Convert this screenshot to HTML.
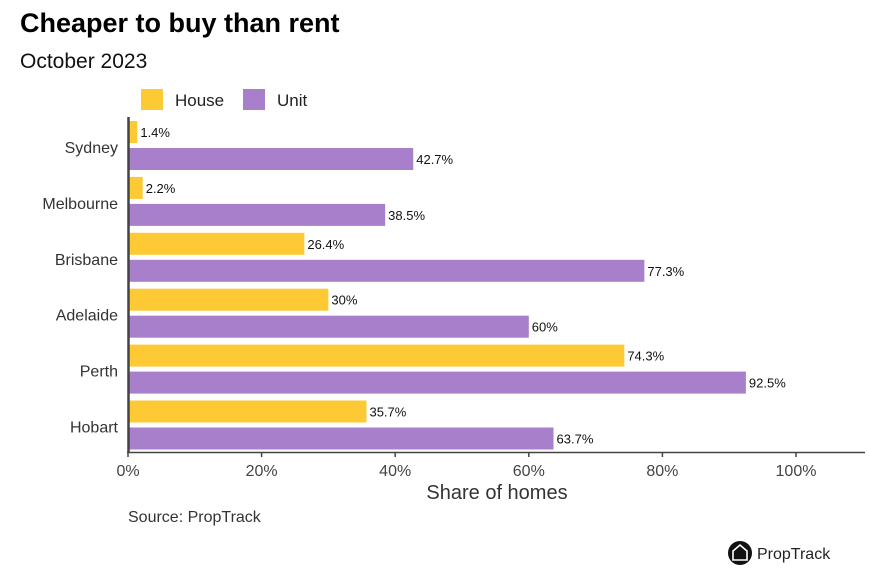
<!DOCTYPE html>
<html><head><meta charset="utf-8"><style>
body{margin:0;background:#fff;width:869px;height:573px;overflow:hidden;font-family:"Liberation Sans",sans-serif;}
</style></head><body>
<svg width="869" height="573" xmlns="http://www.w3.org/2000/svg">
<text x="20" y="32" font-size="27" font-weight="bold" fill="#000">Cheaper to buy than rent</text>
<text x="20" y="68" font-size="21" fill="#111">October 2023</text>
<g>
<rect x="141" y="89" width="22" height="21" fill="#fdc935"/>
<text x="175" y="106" font-size="17" fill="#222">House</text>
<rect x="243" y="89" width="22" height="21" fill="#a77fcb"/>
<text x="277" y="106" font-size="17" fill="#222">Unit</text>
</g>
<g id="plot"></g>
<text x="497" y="499" font-size="20" fill="#333" text-anchor="middle">Share of homes</text>
<text x="128" y="522" font-size="16" fill="#333">Source: PropTrack</text>
<g>
<circle cx="740" cy="553" r="12" fill="#111"/>
<path d="M733 556 L733 551 L740 545 L747 551 L747 560 L733 560 Z" fill="none" stroke="#fff" stroke-width="1.6"/>
<text x="757" y="559" font-size="16" fill="#222">PropTrack</text>
</g>
</svg>
<script>
const categories=["Sydney","Melbourne","Brisbane","Adelaide","Perth","Hobart"];
const houseValues=[1.4,2.2,26.4,30,74.3,35.7];
const unitValues=[42.7,38.5,77.3,60,92.5,63.7];
const houseLabels=["1.4%","2.2%","26.4%","30%","74.3%","35.7%"];
const unitLabels=["42.7%","38.5%","77.3%","60%","92.5%","63.7%"];
const xTicks=[0,20,40,60,80,100];
const xTickLabels=["0%","20%","40%","60%","80%","100%"];
const NS="http://www.w3.org/2000/svg";
const g=document.getElementById('plot');
const x=v=>128+v*6.68;
const bandTop=i=>121+i*55.9;
function el(t,a){const e=document.createElementNS(NS,t);for(const k in a)e.setAttribute(k,a[k]);g.appendChild(e);return e;}
categories.forEach((c,i)=>{
  const t=bandTop(i);
  const l=el('text',{x:118,y:t+32,'font-size':16,fill:'#333','text-anchor':'end'});l.textContent=c;
  
  
  const hb=el('rect',{x:x(0),y:t,width:x(houseValues[i])-x(0),height:22,fill:'#fdc935'});
  
  
  const hl=el('text',{x:x(houseValues[i])+3,y:t+16,'font-size':13,fill:'#111'});hl.textContent=houseLabels[i];
  
  
  const ub=el('rect',{x:x(0),y:t+27,width:x(unitValues[i])-x(0),height:22,fill:'#a77fcb'});
  
  
  const ul=el('text',{x:x(unitValues[i])+3,y:t+43,'font-size':13,fill:'#111'});ul.textContent=unitLabels[i];
  
  
});
const ya=el('line',{x1:128.5,y1:117,x2:128.5,y2:453,stroke:'#444','stroke-width':2.5});


const xa=el('line',{x1:127,y1:452.5,x2:865,y2:452.5,stroke:'#444','stroke-width':1.5});


xTicks.forEach((v,i)=>{
  const tk=el('line',{x1:x(v),y1:452,x2:x(v),y2:457,stroke:'#444','stroke-width':1.5});
  
  
  const tl=el('text',{x:x(v),y:476,'font-size':16,fill:'#444','text-anchor':'middle'});tl.textContent=xTickLabels[i];
  
  
});
</script>
</body></html>
